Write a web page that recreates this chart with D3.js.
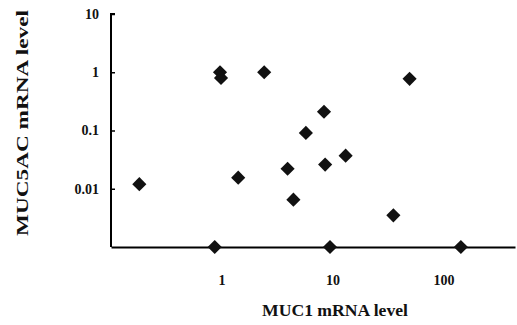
<!DOCTYPE html>
<html>
<head>
<meta charset="utf-8">
<script src="https://cdn.jsdelivr.net/npm/d3@7"></script>
<style>
  body { margin: 0; background: #fff; }
  text { font-family: "Liberation Serif", "DejaVu Serif", serif; font-weight: bold; fill: #111; }
</style>
</head>
<body>
<svg id="chart" width="517" height="325"></svg>
<script>
// MUC1 (x) vs MUC5AC (y) mRNA levels; zeros sit on the bottom axis (0.001)
const muc1 = [0.18, 0.96, 0.98, 2.4, 49, 8.3, 5.7, 13, 8.5, 3.9, 1.4, 4.4, 35, 0.86, 9.4, 142];
const muc5ac = [0.012, 1.0, 0.8, 1.0, 0.77, 0.21, 0.091, 0.037, 0.026, 0.022, 0.0155, 0.0065, 0.0035, 0.001, 0.001, 0.001];
const xTicks = [1, 10, 100];
const xTickLabels = ["1", "10", "100"];
const yTicks = [10, 1, 0.1, 0.01];
const yTickLabels = ["10", "1", "0.1", "0.01"];

const points = muc1.map((v, i) => ({ x: v, y: muc5ac[i] }));

const svg = d3.select("#chart");
const margin = { top: 14, right: 2, bottom: 78, left: 111 };
const width = 517 - margin.left - margin.right;
const height = 325 - margin.top - margin.bottom;

const g = svg.append("g")
  .attr("transform", `translate(${margin.left},${margin.top})`);

const x = d3.scaleLog().domain([0.1, Math.pow(10, 2.64)]).range([0, width]);
const y = d3.scaleLog().domain([0.001, 10]).range([height, 0]);

// y axis: ticks pointing inward
const yAxis = g.append("g")
  .call(d3.axisRight(y).tickValues(yTicks).tickSize(4).tickFormat(""));
yAxis.select(".domain").attr("d", `M4,0H0V${height}`).attr("stroke-width", 2);
yAxis.selectAll(".tick line").attr("stroke-width", 1.5);

g.selectAll(".ylab")
  .data(yTicks)
  .join("text")
  .attr("class", "ylab")
  .attr("x", -12)
  .attr("y", d => y(d))
  .attr("dy", "0.35em")
  .attr("text-anchor", "end")
  .style("font-size", "14px")
  .text((d, i) => yTickLabels[i]);

// x axis: line only, labels below
const xAxis = g.append("g")
  .attr("transform", `translate(0,${height})`)
  .call(d3.axisBottom(x).tickValues(xTicks).tickSize(0).tickFormat(""));
xAxis.select(".domain").attr("stroke-width", 2);

g.selectAll(".xlab")
  .data(xTicks)
  .join("text")
  .attr("class", "xlab")
  .attr("x", d => x(d))
  .attr("y", height + 38)
  .attr("text-anchor", "middle")
  .style("font-size", "14px")
  .text((d, i) => xTickLabels[i]);

// diamond markers
const sym = d3.symbol().type(d3.symbolSquare).size(100);
g.selectAll(".pt")
  .data(points)
  .join("path")
  .attr("class", "pt")
  .attr("d", sym)
  .attr("transform", d => `translate(${x(d.x)},${y(d.y)}) rotate(45)`)
  .attr("fill", "#111");

// axis titles
svg.append("text")
  .attr("x", 335)
  .attr("y", 316)
  .attr("text-anchor", "middle")
  .attr("textLength", 146)
  .attr("lengthAdjust", "spacingAndGlyphs")
  .style("font-size", "17px")
  .text("MUC1 mRNA level");

svg.append("text")
  .attr("transform", "translate(28,123) rotate(-90)")
  .attr("text-anchor", "middle")
  .attr("textLength", 226)
  .attr("lengthAdjust", "spacingAndGlyphs")
  .style("font-size", "17px")
  .text("MUC5AC mRNA level");
</script>
</body>
</html>
